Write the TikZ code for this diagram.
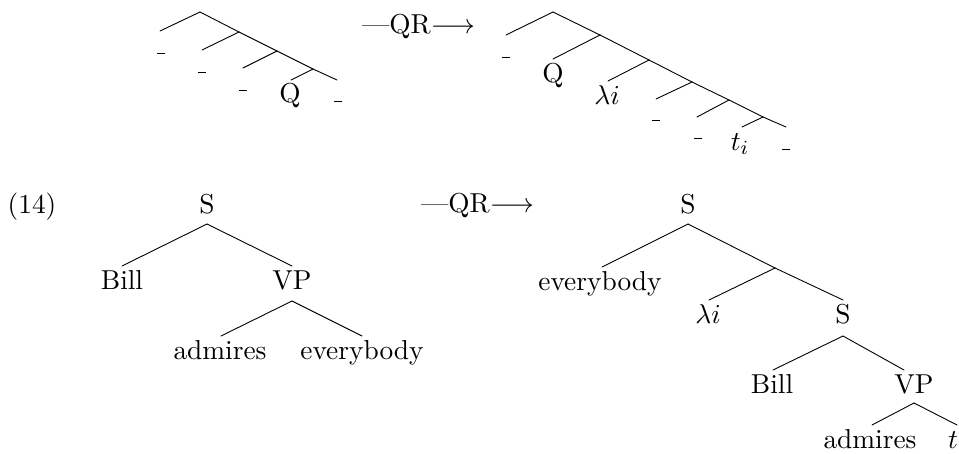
\documentclass[tikz,border=0pt]{standalone}
\newcommand\blankleaf{\rule{0.3em}{0.035em}}
\begin{document}
\begin{tikzpicture}[x=0.4pt,y=-0.4pt,
  lbl/.style={anchor=base,inner sep=0pt,font=\fontsize{10.95}{13}\selectfont},
  edge/.style={line width=0.36pt,line cap=round}]
\useasboundingbox (0,0) rectangle (959,453);
% ---------- Tree A (top left)
\coordinate (a0) at (200,12);
\coordinate (a1) at (160,31);
\coordinate (a2) at (239,32);
\coordinate (a3) at (202,50);
\coordinate (a4) at (277,51);
\coordinate (a5) at (243,68);
\coordinate (a6) at (313,69);
\coordinate (a7) at (291,80);
\coordinate (a8) at (337,80);
\draw[edge] (a0) -- (a1);
\draw[edge] (a0) -- (a2);
\draw[edge] (a2) -- (a3);
\draw[edge] (a2) -- (a4);
\draw[edge] (a4) -- (a5);
\draw[edge] (a4) -- (a6);
\draw[edge] (a6) -- (a7);
\draw[edge] (a6) -- (a8);
\node[lbl] (a1l) at (161,53.5) {\blankleaf};
\node[lbl] (a3l) at (202,72.5) {\blankleaf};
\node[lbl] (a5l) at (243,90.5) {\blankleaf};
\node[lbl] (a7l) at (290,102) {Q};
\node[lbl] (a8l) at (338,101.5) {\blankleaf};
% arrow 1
\node[lbl] (qr1) at (418.5,33) {---QR$\longrightarrow$};
% ---------- Tree B (top right)
\coordinate (b0) at (553,12);
\coordinate (b1) at (506,35);
\coordinate (b2) at (600,35);
\coordinate (b3) at (553,59);
\coordinate (b4) at (649,60);
\coordinate (b5) at (608,81);
\coordinate (b6) at (692,82);
\coordinate (b7) at (656,99);
\coordinate (b8) at (729,100);
\coordinate (b9) at (697,117);
\coordinate (b10) at (763,117);
\coordinate (b11) at (742,127);
\coordinate (b12) at (786,127);
\draw[edge] (b0) -- (b1);
\draw[edge] (b0) -- (b2);
\draw[edge] (b2) -- (b3);
\draw[edge] (b2) -- (b4);
\draw[edge] (b4) -- (b5);
\draw[edge] (b4) -- (b6);
\draw[edge] (b6) -- (b7);
\draw[edge] (b6) -- (b8);
\draw[edge] (b8) -- (b9);
\draw[edge] (b8) -- (b10);
\draw[edge] (b10) -- (b11);
\draw[edge] (b10) -- (b12);
\node[lbl] (b1l) at (506,57.5) {\blankleaf};
\node[lbl] (b3l) at (553,82) {Q};
\node[lbl] (b5l) at (607,104) {$\lambda i$};
\node[lbl] (b7l) at (656,121) {\blankleaf};
\node[lbl] (b9l) at (698,138.5) {\blankleaf};
\node[lbl] (b11l) at (740,150) {$t_i$};
\node[lbl] (b12l) at (786,150) {\blankleaf};
% ---------- (14)
\node[lbl] (ex) at (32,213) {(14)};
% ---------- Tree C
\node[lbl] (cS) at (207,213) {S};
\coordinate (c0) at (207,224);
\coordinate (c1) at (122,266);
\coordinate (c2) at (292,266);
\coordinate (c3) at (292,301);
\coordinate (c4) at (221,336);
\coordinate (c5) at (362,336);
\draw[edge] (c0) -- (c1);
\draw[edge] (c0) -- (c2);
\draw[edge] (c3) -- (c4);
\draw[edge] (c3) -- (c5);
\node[lbl] (cBill) at (122,289) {Bill};
\node[lbl] (cVP) at (292,289) {VP};
\node[lbl] (cadm) at (220,359) {admires};
\node[lbl] (cevery) at (362,359) {everybody};
% arrow 2
\node[lbl] (qr2) at (477.5,212) {---QR$\longrightarrow$};
% ---------- Tree D
\node[lbl] (dS) at (688,213) {S};
\coordinate (d0) at (688,224);
\coordinate (d1) at (602,267);
\coordinate (d2) at (775,268);
\coordinate (d3) at (709,300);
\coordinate (d4) at (843,300);
\coordinate (d5) at (843,336);
\coordinate (d6) at (773,370);
\coordinate (d7) at (904,370);
\coordinate (d8) at (914,403);
\coordinate (d9) at (872,425);
\coordinate (d10) at (957,425);
\draw[edge] (d0) -- (d1);
\draw[edge] (d0) -- (d2);
\draw[edge] (d2) -- (d3);
\draw[edge] (d2) -- (d4);
\draw[edge] (d5) -- (d6);
\draw[edge] (d5) -- (d7);
\draw[edge] (d8) -- (d9);
\draw[edge] (d8) -- (d10);
\node[lbl] (devery) at (600,290) {everybody};
\node[lbl] (dlam) at (708,323) {$\lambda i$};
\node[lbl] (dS2) at (843,323) {S};
\node[lbl] (dBill) at (772,393) {Bill};
\node[lbl] (dVP) at (914,393) {VP};
\node[lbl] (dadm) at (870,448) {admires};
\node[lbl] (dt) at (953,448) {$t$};
\end{tikzpicture}
\end{document}
